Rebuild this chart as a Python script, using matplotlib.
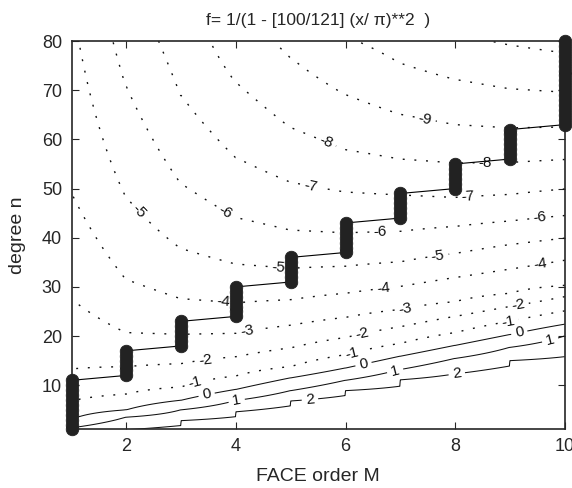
import numpy as np
import matplotlib
matplotlib.use('Agg')
import matplotlib.pyplot as plt

plt.rcParams['font.family'] = ['Liberation Sans', 'DejaVu Sans']
plt.rcParams['lines.scale_dashes'] = False

nan = np.nan

# FACE order M (x) and the contour levels of log10(error)
face_orders = [1, 2, 3, 4, 5, 6, 7, 8, 9, 10]
contour_levels = [-11, -10, -9, -8, -7, -6, -5, -4, -3, -2, -1, 0, 1, 2]

# degree n where each level is crossed, for M = 1..10 (read off the picture,
# values above 80 are guesses from how the curves bend near the top)
level_2_left = [nan, 0.95, 1.8, 3.6, 5.8, 7.9, 9.8, 12.3, 13.9, 15.8]
level_2_right = [nan, 0.95, 2.8, 4.6, 6.8, 8.9, 11.1, 12.3, 15.0, 15.8]
level_1 = [1.35, 3.5, 5.0, 6.9, 8.9, 11.0, 13.2, 15.45, 17.7, 20.0]
level_0 = [3.05, 5.0, 6.95, 9.15, 11.5, 13.5, 15.9, 18.1, 20.3, 22.4]
level_m1 = [6.8, 8.2, 9.65, 11.9, 13.8, 16.2, 18.5, 20.7, 23.0, 25.1]
level_m2 = [13.3, 13.8, 14.4, 15.8, 17.6, 19.7, 21.9, 24.0, 26.0, 28.0]
level_m3 = [27.5, 20.7, 20.35, 20.55, 22.2, 23.8, 25.4, 27.0, 28.7, 30.3]
level_m4 = [49.0, 31.5, 27.6, 26.75, 27.4, 28.7, 30.1, 31.9, 33.6, 35.4]
level_m5 = [88.0, 48.2, 37.8, 34.65, 33.8, 34.2, 35.1, 36.8, 38.6, 39.9]
level_m6 = [nan, 70.7, 51.0, 44.1, 41.55, 41.0, 41.3, 42.3, 43.4, 44.5]
level_m7 = [nan, 95.0, 68.9, 56.3, 51.3, 49.3, 48.7, 48.2, 48.8, 49.9]
level_m8 = [nan, nan, 95.0, 71.6, 62.4, 57.9, 56.0, 55.2, 55.3, 55.9]
level_m9 = [nan, nan, nan, 88.0, 76.6, 69.1, 65.1, 63.0, 62.35, 62.5]
level_m10 = [nan, nan, nan, nan, 92.0, 81.0, 75.5, 72.2, 70.3, 69.6]
level_m11 = [nan, nan, nan, nan, nan, nan, 90.0, 81.5, 79.2, 77.6]

# best FACE order for each degree n (the thick black bars)
best_order = [1, 2, 3, 4, 5, 6, 7, 8, 9, 10]
best_n_first = [1, 12, 18, 24, 31, 37, 44, 50, 56, 63]
best_n_last = [11, 17, 23, 30, 36, 43, 49, 55, 62, 80]

title_text = 'f= 1/(1 - [100/121] (x/ \u03c0)**2  )'

# where the contour labels sit
label_spots = [
    (7.45, 64.0),
    (5.63, 59.2), (8.55, 55.3),
    (5.35, 50.0), (8.24, 48.3),
    (3.8, 45.1), (6.63, 40.9), (9.55, 43.7),
    (2.19, 45.0), (4.77, 33.8), (7.69, 36.0),
    (3.77, 26.8), (6.69, 29.7), (9.55, 34.7),
    (4.2, 20.8), (7.09, 25.5),
    (3.44, 14.8), (6.3, 20.5), (9.15, 26.3),
    (3.25, 10.4), (6.11, 16.5), (8.97, 22.9),
    (3.47, 7.7), (6.33, 14.1), (9.17, 20.7),
    (4.01, 7.0), (6.9, 13.1), (9.73, 19.3),
    (5.35, 7.0), (8.03, 12.3),
]

crossings = [(1, level_1), (0, level_0), (-1, level_m1), (-2, level_m2),
             (-3, level_m3), (-4, level_m4), (-5, level_m5), (-6, level_m6),
             (-7, level_m7), (-8, level_m8), (-9, level_m9), (-10, level_m10),
             (-11, level_m11)]


def column_values(n_grid, i, level_2_row):
    '''log10 error along n for one FACE order, linear between crossings'''
    ns = [level_2_row[i]]
    vs = [2.0]
    for lev, row in crossings:
        ns.append(row[i])
        vs.append(float(lev))
    ns = np.array(ns)
    vs = np.array(vs)
    keep = ~np.isnan(ns)
    ns, vs = ns[keep], vs[keep]
    z = np.interp(n_grid, ns, vs)
    lo = n_grid < ns[0]
    hi = n_grid > ns[-1]
    z[lo] = vs[0] + (n_grid[lo] - ns[0]) * (vs[1] - vs[0]) / (ns[1] - ns[0])
    z[hi] = vs[-1] + (n_grid[hi] - ns[-1]) * (vs[-1] - vs[-2]) / (ns[-1] - ns[-2])
    return z


n_grid = np.linspace(1, 80, 600)
eps = 0.01
x_cols = []
z_cols = []
for i, m in enumerate(face_orders):
    if i > 0:
        x_cols.append(m - eps)
        z_cols.append(column_values(n_grid, i, level_2_left))
    x_cols.append(m)
    z_cols.append(column_values(n_grid, i, level_2_right))
Z = np.column_stack(z_cols)

fig = plt.figure(figsize=(5.72, 4.88), dpi=100)
ax = fig.add_axes([0.1253, 0.1199, 0.862, 0.796])

dotted = (0, (1.4, 7.0))
styles = [dotted if lev < 0 else 'solid' for lev in contour_levels]
widths = [1.0 if lev < 0 else 0.75 for lev in contour_levels]
cs = ax.contour(x_cols, n_grid, Z, levels=contour_levels, colors='#111111',
                linewidths=widths, linestyles=styles)
ax.clabel(cs, fmt='%d', fontsize=11, manual=label_spots, inline=True,
          inline_spacing=4)

m_pts = np.concatenate([np.full(b - a + 1, m) for m, a, b in
                        zip(best_order, best_n_first, best_n_last)])
n_pts = np.concatenate([np.arange(a, b + 1) for a, b in
                        zip(best_n_first, best_n_last)])
ax.plot(m_pts, n_pts, '-o', color='k', lw=0.8, ms=9.0, mew=0.6,
        mfc='#222222', mec='#222222', clip_on=False, zorder=5)

ax.set_xlim(1, 10)
ax.set_ylim(1, 80)
ax.set_xticks([2, 4, 6, 8, 10])
ax.set_yticks([10, 20, 30, 40, 50, 60, 70, 80])
ax.tick_params(direction='in', top=True, right=True, length=5, width=0.8,
               labelsize=13, colors='#262626')
ax.tick_params(axis='x', pad=6)
ax.tick_params(axis='y', pad=7)
for sp in ax.spines.values():
    sp.set_linewidth(1.2)
    sp.set_color('#262626')

ax.set_title(title_text, fontsize=12.5, pad=11.5, color='#262626')
ax.set_xlabel('FACE order M', fontsize=14, color='#262626')
ax.set_ylabel('degree n', fontsize=14, color='#262626')
ax.xaxis.set_label_coords(0.5, -0.1)
ax.yaxis.set_label_coords(-0.092, 0.5)

fig.savefig('out.png', dpi=100)
